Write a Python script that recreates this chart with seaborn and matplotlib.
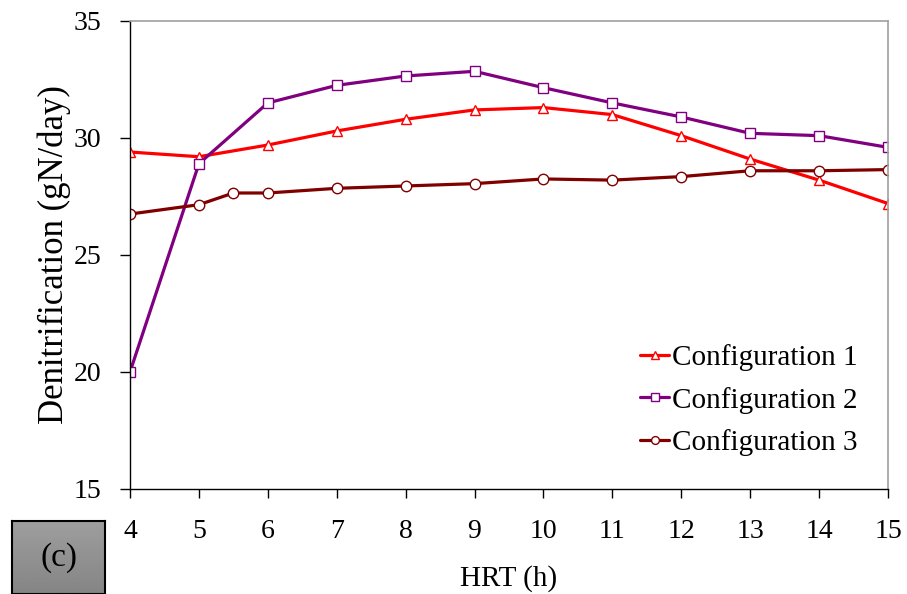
import numpy as np
import pandas as pd
import matplotlib
matplotlib.use("Agg")
import matplotlib.pyplot as plt
import seaborn as sns

# Data
hrt_1 = [4, 5, 6, 7, 8, 9, 10, 11, 12, 13, 14, 15]
config_1 = [29.4, 29.2, 29.7, 30.3, 30.8, 31.2, 31.3, 31.0, 30.1, 29.1, 28.2, 27.2]
hrt_2 = [4, 5, 6, 7, 8, 9, 10, 11, 12, 13, 14, 15]
config_2 = [20.0, 28.9, 31.5, 32.25, 32.65, 32.85, 32.15, 31.5, 30.9, 30.2, 30.1, 29.6]
hrt_3 = [4, 5, 5.5, 6, 7, 8, 9, 10, 11, 12, 13, 14, 15]
config_3 = [26.75, 27.15, 27.65, 27.65, 27.85, 27.95, 28.05, 28.25, 28.2, 28.35, 28.6, 28.6, 28.65]
labels = ["Configuration 1", "Configuration 2", "Configuration 3"]
x_ticks = list(range(4, 16))
y_ticks = [15, 20, 25, 30, 35]

sns.set_theme(style="white")
plt.rcParams['font.family'] = ['Liberation Serif', 'DejaVu Serif']
plt.rcParams['text.color'] = 'black'
plt.rcParams['axes.labelcolor'] = 'black'
plt.rcParams['xtick.color'] = 'black'
plt.rcParams['ytick.color'] = 'black'

fig = plt.figure(figsize=(9.07, 5.94), dpi=100)
ax = fig.add_axes([130/907, 1-489/594, (888-130)/907, (489-21)/594])

series = [
    (hrt_1, config_1, "#FF0000", "^"),
    (hrt_2, config_2, "#800080", "s"),
    (hrt_3, config_3, "#800000", "o"),
]
for (xs, ys, col, mk), lab in zip(series, labels):
    df = pd.DataFrame({"HRT": xs, "val": ys})
    sns.lineplot(data=df, x="HRT", y="val", ax=ax, color=col, linewidth=2.3,
                 marker=mk, markersize=7.5, markerfacecolor="white",
                 markeredgecolor=col, markeredgewidth=1.0, label=lab)

ax.set_xlim(4, 15)
ax.set_ylim(15, 35)
ax.set_xticks(x_ticks)
ax.set_yticks(y_ticks)
ax.tick_params(axis="y", labelsize=20, direction="out", length=7.5, width=1,
               color="black", labelcolor="black", left=True, pad=13)
ax.tick_params(axis="x", labelsize=20, direction="out", length=6.5, width=1,
               color="black", labelcolor="black", bottom=True, pad=15)
ax.set_xlabel("HRT (h)", fontsize=21, labelpad=15, color="black")
ax.set_ylabel("Denitrification (gN/day)", fontsize=25, labelpad=2, color="black")

for side in ["left", "bottom"]:
    ax.spines[side].set_color("black")
    ax.spines[side].set_linewidth(1.0)
for side in ["top", "right"]:
    ax.spines[side].set_color("#a0a0a0")
    ax.spines[side].set_linewidth(1.2)

leg = ax.legend(loc="lower right", bbox_to_anchor=(0.995, 0.015), frameon=False,
                fontsize=21, handlelength=1.0, handletextpad=0.1,
                labelspacing=0.52, markerscale=0.75, labelcolor="black")

# (c) label box with gradient
bax = fig.add_axes([12/907, 0, 93/907, 73/594])
grad = np.linspace(0.62, 0.52, 100).reshape(-1, 1)
bax.imshow(grad, cmap="gray", vmin=0, vmax=1, aspect="auto", extent=[0, 1, 0, 1])
bax.set_xticks([])
bax.set_yticks([])
for s in bax.spines.values():
    s.set_color("black")
    s.set_linewidth(1.5)
bax.text(0.5, 0.5, "(c)", ha="center", va="center", fontsize=24, color="black",
         transform=bax.transAxes)

fig.savefig("out.png", dpi=100)
